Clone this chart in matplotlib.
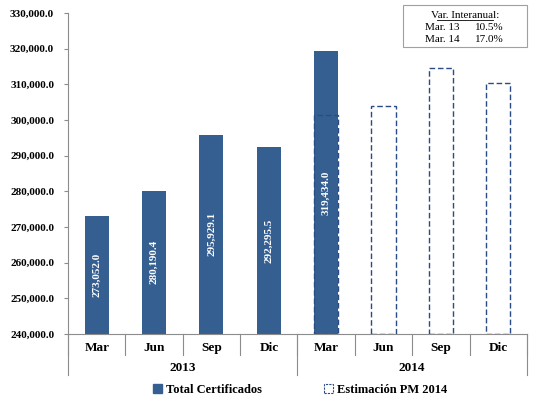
import numpy as np
import matplotlib.pyplot as plt
from matplotlib.patches import Patch
from matplotlib.transforms import blended_transform_factory

# quarterly values
months = ["Mar", "Jun", "Sep", "Dic", "Mar", "Jun", "Sep", "Dic"]
years = ["2013", "2014"]
certificados = [273052.0, 280190.4, 295929.1, 292295.5, 319434.0]
estimacion = [301400.0, 303900.0, 314600.0, 310400.0]
var_labels = ["Mar. 13", "Mar. 14"]
var_values = ["10.5%", "17.0%"]

plt.rcParams['font.family'] = ['Liberation Serif', 'DejaVu Serif']

BLUE = '#355F91'
EDGE = '#2A4C84'
GRID = '#8C8C8C'
BASE = 240000

fig = plt.figure(figsize=(5.36, 4.0), dpi=100)
ax = fig.add_axes([0.127, 0.165, 0.856, 0.8025])

x = np.arange(len(months))
width = 0.42

# solid bars for the certified totals
x_cert = x[:len(certificados)]
heights = np.array(certificados) - BASE
ax.bar(x_cert, heights, width, bottom=BASE, color=BLUE, zorder=2)
for xi, v in zip(x_cert, certificados):
    ax.text(xi, (BASE + v) / 2, f"{v:,.1f}", rotation=90, ha='center', va='center',
            color='white', fontsize=8, fontweight='bold', zorder=4)

# dashed outline bars for the 2014 estimate
x_est = x[4:]
ax.bar(x_est, np.array(estimacion) - BASE, width, bottom=BASE, facecolor='none',
       edgecolor=EDGE, linestyle=(0, (4, 2)), linewidth=1.0, zorder=3)

ax.set_xlim(-0.5, len(months) - 0.5)
ax.set_ylim(240000, 330000)
yticks = np.arange(240000, 330001, 10000)
ax.set_yticks(yticks)
ax.set_yticklabels([f"{t:,.1f}" for t in yticks], fontsize=8, fontweight='bold')
ax.tick_params(axis='y', length=3, color=GRID, pad=7)
ax.set_xticks([])

for side in ['top', 'right']:
    ax.spines[side].set_visible(False)
for side in ['left', 'bottom']:
    ax.spines[side].set_color(GRID)
    ax.spines[side].set_linewidth(0.8)

# two level category axis
trans = blended_transform_factory(ax.transData, ax.transAxes)
for b in np.arange(-0.5, len(months), 1.0):
    ax.plot([b, b], [0, -0.066], color=GRID, lw=0.8, transform=trans, clip_on=False)
for b in [-0.5, 3.5, 7.5]:
    ax.plot([b, b], [0, -0.128], color=GRID, lw=0.8, transform=trans, clip_on=False)
for xi, m in zip(x, months):
    ax.text(xi, -0.043, m, ha='center', va='center', fontsize=9.5, fontweight='bold',
            transform=trans)
for i, y in enumerate(years):
    ax.text(1.5 + 4 * i, -0.105, y, ha='center', va='center', fontsize=9.5,
            fontweight='bold', transform=trans)

# legend
handles = [Patch(facecolor=BLUE, edgecolor=BLUE),
           Patch(facecolor='white', edgecolor=EDGE, linestyle=(0, (2, 1)), linewidth=0.8)]
fig.legend(handles, ["Total Certificados", "Estimación PM 2014"], loc='center',
           bbox_to_anchor=(0.56, 0.025), ncol=2, frameon=False, handlelength=0.7,
           handleheight=0.7, handletextpad=0.3, columnspacing=5,
           prop={'size': 9, 'weight': 'bold'})

# year on year variation box
fig.patches.append(plt.Rectangle((403 / 536, 1 - 47 / 400), 124 / 536, 42 / 400,
                                 transform=fig.transFigure, facecolor='white',
                                 edgecolor='#A0A0A0', linewidth=0.8))
fig.text(465 / 536, 1 - 15 / 400, "Var. Interanual:", ha='center', va='center',
         fontsize=8)
fig.lines.append(plt.Line2D([437 / 536, 493 / 536], [1 - 20 / 400, 1 - 20 / 400],
                            transform=fig.transFigure, color='black', lw=0.6))
for i, (lab, val) in enumerate(zip(var_labels, var_values)):
    yy = 1 - (27 + 12 * i) / 400
    fig.text(442 / 536, yy, lab, ha='center', va='center', fontsize=8)
    fig.text(489 / 536, yy, val, ha='center', va='center', fontsize=8)

fig.savefig("out.png", dpi=100)
